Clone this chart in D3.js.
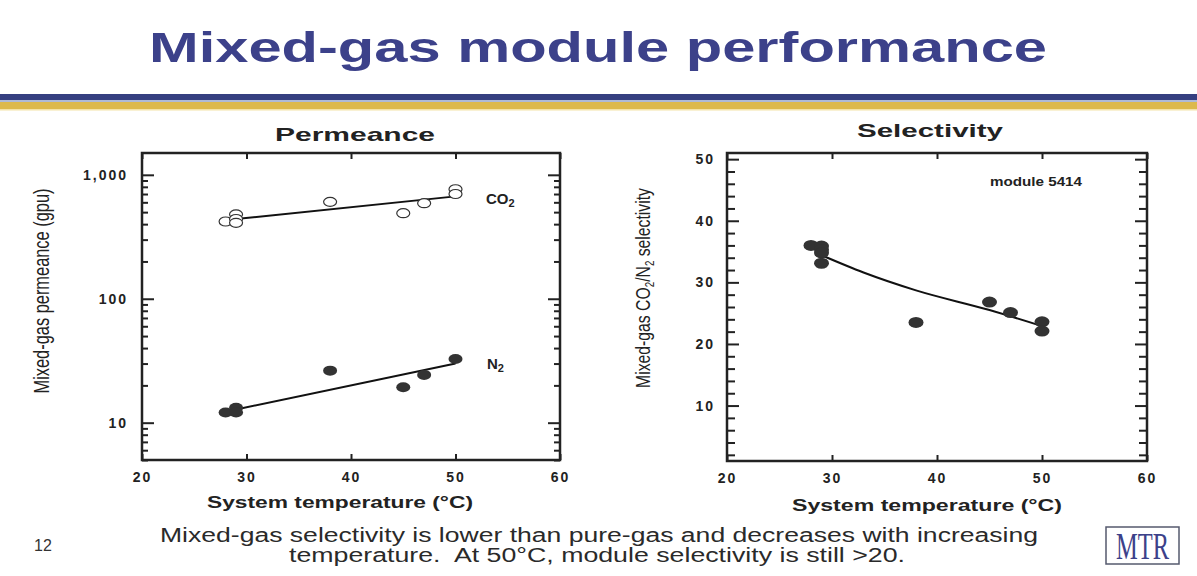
<!DOCTYPE html>
<html>
<head>
<meta charset="utf-8">
<script src="https://cdn.jsdelivr.net/npm/d3@7"></script>
<style>
  html, body { margin: 0; padding: 0; background: #fff; }
  svg { display: block; font-family: "Liberation Sans", Arial, sans-serif; }
</style>
</head>
<body>
<svg id="chart" width="1197" height="576"></svg>
<script>
// ---------------- DATA ----------------
const titleText = "Mixed-gas module performance";
const xTickValues = [20, 30, 40, 50, 60];

// Permeance (gpu) vs temperature
const co2Temp = [28, 29, 29, 29, 38, 45, 47, 50, 50];
const co2Perm = [420, 480, 440, 410, 605, 490, 590, 765, 700];
const n2Temp = [28, 29, 29, 38, 45, 47, 50];
const n2Perm = [12.1, 13.2, 12.1, 26.3, 19.3, 24.3, 32.6];
const co2FitTemp = [29, 50];
const co2FitPerm = [440, 670];
const n2FitTemp = [29, 50];
const n2FitPerm = [12.8, 30];
const permMajorTicks = [10, 100, 1000];
const permMinorTicks = [5, 6, 7, 8, 9, 20, 30, 40, 50, 60, 70, 80, 90, 200, 300, 400, 500, 600, 700, 800, 900];

// Selectivity vs temperature
const selTemp = [28, 29, 29, 29, 29, 38, 45, 47, 50, 50];
const selVal = [36.0, 35.9, 35.3, 34.8, 33.1, 23.5, 26.8, 25.1, 23.6, 22.1];
const selFitTemp = [29, 33, 38, 45, 50];
const selFitVal = [34.4, 31.6, 28.7, 25.5, 22.9];
const selMajorTicks = [10, 20, 30, 40, 50];
const selMinorTicks = [2, 4, 6, 8, 12, 14, 16, 18, 22, 24, 26, 28, 32, 34, 36, 38, 42, 44, 46, 48];

const footLine1 = "Mixed-gas selectivity is lower than pure-gas and decreases with increasing";
const footLine2 = "temperature.  At 50°C, module selectivity is still >20.";

// ---------------- DRAW ----------------
const svg = d3.select("#chart");
const navy = "#3c418a";

// Title
svg.append("text").attr("x", 598).attr("y", 62).attr("text-anchor", "middle")
  .attr("font-size", 42).attr("font-weight", "bold").attr("fill", navy)
  .attr("textLength", 898).attr("lengthAdjust", "spacingAndGlyphs")
  .text(titleText);

// Stripes
svg.append("rect").attr("x", 0).attr("y", 94).attr("width", 1197).attr("height", 6).attr("fill", "#353f80");
svg.append("rect").attr("x", 0).attr("y", 100).attr("width", 1197).attr("height", 2).attr("fill", "#aebad6");
svg.append("rect").attr("x", 0).attr("y", 102).attr("width", 1197).attr("height", 7).attr("fill", "#dcb94c");
svg.append("rect").attr("x", 0).attr("y", 109).attr("width", 1197).attr("height", 1.5).attr("fill", "#f3e3a8");

const tickFont = (sel) => sel.selectAll("text")
  .attr("font-family", "'Liberation Sans', Arial, sans-serif")
  .attr("font-size", 14).attr("font-weight", "bold").attr("fill", "#222")
  .attr("letter-spacing", 2);

function drawPanel(opts) {
  const { x, y, g } = opts;
  const [x0, x1] = x.range();
  const [y0, y1] = y.range(); // y0 bottom, y1 top
  g.append("g").attr("transform", `translate(${x0},0)`)
    .call(d3.axisLeft(y).tickValues(opts.minor).tickSize(-opts.minorLen).tickFormat(""))
    .call(s => s.select(".domain").remove());
  g.append("g").attr("transform", `translate(${x1},0)`)
    .call(d3.axisRight(y).tickValues(opts.minor).tickSize(-opts.minorLen).tickFormat(""))
    .call(s => s.select(".domain").remove());
  g.append("g").attr("transform", `translate(${x0},0)`)
    .call(d3.axisLeft(y).tickValues(opts.major).tickSize(-opts.majorLen).tickPadding(opts.labelPad).tickFormat(opts.fmt))
    .call(s => s.select(".domain").remove())
    .call(tickFont);
  g.append("g").attr("transform", `translate(${x1},0)`)
    .call(d3.axisRight(y).tickValues(opts.major).tickSize(-opts.majorLen).tickFormat(""))
    .call(s => s.select(".domain").remove());
  g.append("g").attr("transform", `translate(0,${y0})`)
    .call(d3.axisBottom(x).tickValues(xTickValues).tickSize(-6).tickPadding(12).tickFormat(d3.format("d")))
    .call(s => s.select(".domain").remove())
    .call(tickFont);
  g.append("g").attr("transform", `translate(0,${y1})`)
    .call(d3.axisTop(x).tickValues(xTickValues).tickSize(-6).tickFormat(""))
    .call(s => s.select(".domain").remove());
  g.selectAll(".tick line").attr("stroke", "#222").attr("stroke-width", 2);
  g.append("rect").attr("x", x0).attr("y", y1).attr("width", x1 - x0).attr("height", y0 - y1)
    .attr("fill", "none").attr("stroke", "#222").attr("stroke-width", 2.5);
}

// ---------- Left panel: Permeance ----------
const xL = d3.scaleLinear().domain([20, 60]).range([142, 560]);
const yL = d3.scaleLog().domain([5, 1500]).range([460, 153]);
const gL = svg.append("g");
drawPanel({ x: xL, y: yL, g: gL, minor: permMinorTicks, major: permMajorTicks,
  minorLen: 6, majorLen: 12, labelPad: 14, fmt: d3.format(",") });

const lineL = d3.line().x(d => xL(d[0])).y(d => yL(d[1]));
gL.append("path").attr("d", lineL(d3.zip(co2FitTemp, co2FitPerm)))
  .attr("fill", "none").attr("stroke", "#111").attr("stroke-width", 2);
gL.append("path").attr("d", lineL(d3.zip(n2FitTemp, n2FitPerm)))
  .attr("fill", "none").attr("stroke", "#111").attr("stroke-width", 2);

gL.selectAll(".co2").data(d3.zip(co2Temp, co2Perm)).join("ellipse")
  .attr("cx", d => xL(d[0])).attr("cy", d => yL(d[1])).attr("rx", 6.5).attr("ry", 4.5)
  .attr("fill", "#fff").attr("stroke", "#333").attr("stroke-width", 1.2);
gL.selectAll(".n2").data(d3.zip(n2Temp, n2Perm)).join("ellipse")
  .attr("cx", d => xL(d[0])).attr("cy", d => yL(d[1])).attr("rx", 7).attr("ry", 5)
  .attr("fill", "#333");

const co2Lab = svg.append("text").attr("x", 486).attr("y", 204).attr("font-size", 15).attr("font-weight", "bold").attr("fill", "#222");
co2Lab.append("tspan").text("CO");
co2Lab.append("tspan").attr("font-size", 11).attr("dy", 3).text("2");
const n2Lab = svg.append("text").attr("x", 487).attr("y", 369).attr("font-size", 15).attr("font-weight", "bold").attr("fill", "#222");
n2Lab.append("tspan").text("N");
n2Lab.append("tspan").attr("font-size", 11).attr("dy", 3).text("2");

svg.append("text").attr("x", 355).attr("y", 141).attr("text-anchor", "middle")
  .attr("font-size", 19).attr("font-weight", "bold").attr("fill", "#222")
  .attr("textLength", 160).attr("lengthAdjust", "spacingAndGlyphs").text("Permeance");
svg.append("text").attr("x", 340).attr("y", 508).attr("text-anchor", "middle")
  .attr("font-size", 17).attr("font-weight", "bold").attr("fill", "#222")
  .attr("textLength", 266).attr("lengthAdjust", "spacingAndGlyphs").text("System temperature (°C)");
svg.append("text").attr("transform", "translate(49,291) rotate(-90)").attr("text-anchor", "middle")
  .attr("font-size", 22).attr("fill", "#222")
  .attr("textLength", 205).attr("lengthAdjust", "spacingAndGlyphs").text("Mixed-gas permeance (gpu)");

// ---------- Right panel: Selectivity ----------
const xR = d3.scaleLinear().domain([20, 60]).range([727, 1147]);
const yR = d3.scaleLinear().domain([1, 51]).range([461, 153]);
const gR = svg.append("g");
drawPanel({ x: xR, y: yR, g: gR, minor: selMinorTicks, major: selMajorTicks,
  minorLen: 8, majorLen: 12, labelPad: 12, fmt: d3.format("d") });

gR.append("path").attr("d", d3.line().curve(d3.curveMonotoneX).x(d => xR(d[0])).y(d => yR(d[1]))(d3.zip(selFitTemp, selFitVal)))
  .attr("fill", "none").attr("stroke", "#111").attr("stroke-width", 2);
gR.selectAll(".sel").data(d3.zip(selTemp, selVal)).join("ellipse")
  .attr("cx", d => xR(d[0])).attr("cy", d => yR(d[1])).attr("rx", 7.5).attr("ry", 5.5)
  .attr("fill", "#333");

svg.append("text").attr("x", 990).attr("y", 186).attr("font-size", 13).attr("font-weight", "bold").attr("fill", "#222")
  .attr("textLength", 92).attr("lengthAdjust", "spacingAndGlyphs").text("module 5414");

svg.append("text").attr("x", 930).attr("y", 137).attr("text-anchor", "middle")
  .attr("font-size", 19).attr("font-weight", "bold").attr("fill", "#222")
  .attr("textLength", 146).attr("lengthAdjust", "spacingAndGlyphs").text("Selectivity");
svg.append("text").attr("x", 927).attr("y", 511).attr("text-anchor", "middle")
  .attr("font-size", 17).attr("font-weight", "bold").attr("fill", "#222")
  .attr("textLength", 270).attr("lengthAdjust", "spacingAndGlyphs").text("System temperature (°C)");
const yTitR = svg.append("text").attr("transform", "translate(650,288) rotate(-90)").attr("text-anchor", "middle")
  .attr("font-size", 21).attr("fill", "#222")
  .attr("textLength", 200).attr("lengthAdjust", "spacingAndGlyphs");
yTitR.append("tspan").text("Mixed-gas CO");
yTitR.append("tspan").attr("font-size", 13).attr("dy", 4).text("2");
yTitR.append("tspan").attr("dy", -4).text("/N");
yTitR.append("tspan").attr("font-size", 13).attr("dy", 4).text("2");
yTitR.append("tspan").attr("dy", -4).text(" selectivity");

// ---------- Footer ----------
svg.append("text").attr("x", 43).attr("y", 551).attr("text-anchor", "middle")
  .attr("font-size", 16).attr("fill", "#333").text("12");
svg.append("text").attr("x", 599).attr("y", 542).attr("text-anchor", "middle")
  .attr("font-size", 20).attr("fill", "#2a2a2a")
  .attr("textLength", 878).attr("lengthAdjust", "spacingAndGlyphs").text(footLine1);
svg.append("text").attr("x", 597).attr("y", 562).attr("text-anchor", "middle")
  .attr("font-size", 20).attr("fill", "#2a2a2a").style("white-space", "pre")
  .attr("textLength", 616).attr("lengthAdjust", "spacingAndGlyphs").text(footLine2);

// MTR logo
svg.append("rect").attr("x", 1106).attr("y", 527).attr("width", 73).attr("height", 37)
  .attr("fill", "#fff").attr("stroke", "#555a6e").attr("stroke-width", 1.5);
svg.append("text").attr("x", 1142.5).attr("y", 559).attr("text-anchor", "middle")
  .style("font-family", "'Liberation Serif', 'Times New Roman', serif").attr("font-size", 38).attr("fill", navy)
  .attr("textLength", 53).attr("lengthAdjust", "spacingAndGlyphs").text("MTR");
</script>
</body>
</html>
